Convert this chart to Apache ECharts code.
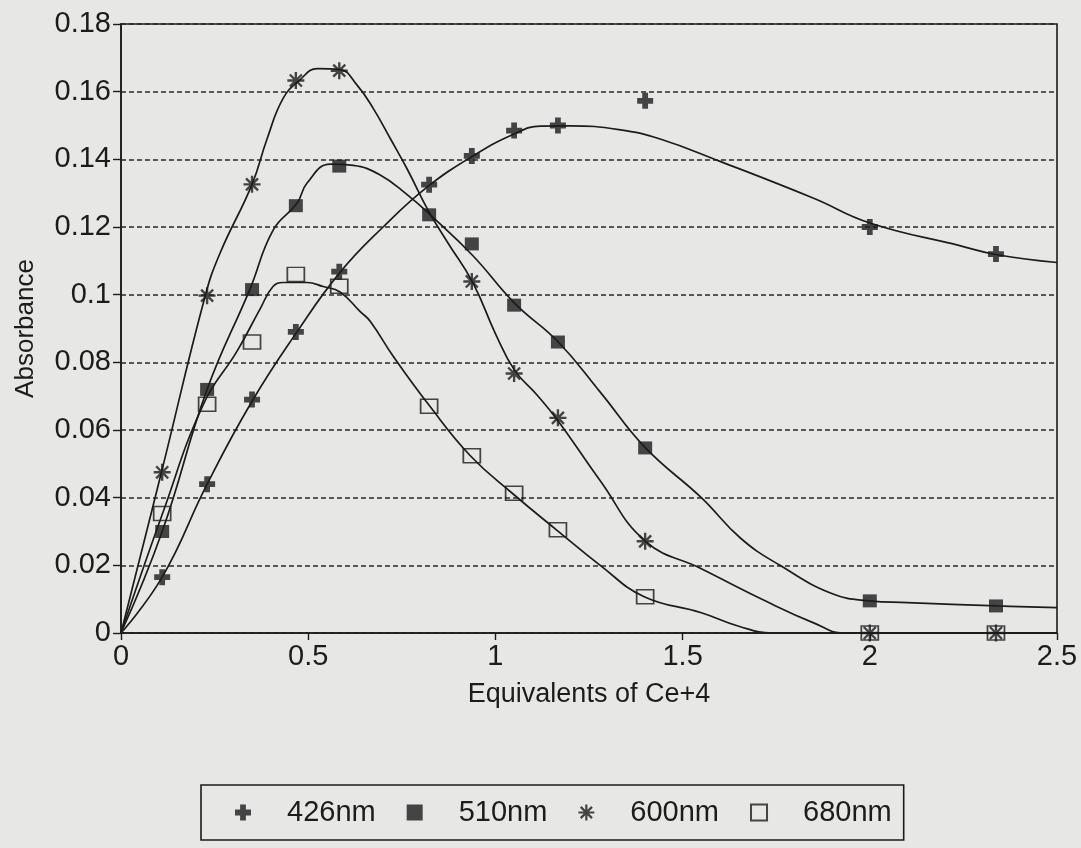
<!DOCTYPE html>
<html>
<head>
<meta charset="utf-8">
<script src="https://cdn.jsdelivr.net/npm/echarts@6/dist/echarts.min.js"></script>
<style>
html,body{margin:0;padding:0;background:#e7e7e5;}
#chart{width:1081px;height:848px;}
</style>
</head>
<body>
<div id="chart"></div>
<script>
// ---- data ----
const seriesNames = ['426nm', '510nm', '600nm', '680nm'];
const xTickLabels = ['0', '0.5', '1', '1.5', '2', '2.5'];
const yTickLabels = ['0', '0.02', '0.04', '0.06', '0.08', '0.1', '0.12', '0.14', '0.16', '0.18'];

// measured points (x = equivalents of Ce+4)
const xPoints = [0.11, 0.23, 0.35, 0.467, 0.583, 0.823, 0.937, 1.05, 1.167, 1.4, 2.0, 2.337];
const abs426 = [0.0165, 0.0440, 0.0690, 0.0890, 0.1068, 0.1325, 0.1410, 0.1485, 0.1500, 0.1573, 0.1200, 0.1120];
const abs510 = [0.0300, 0.0720, 0.1015, 0.1263, 0.1380, 0.1236, 0.1150, 0.0969, 0.0860, 0.0547, 0.0095, 0.0080];
const abs600 = [0.0475, 0.0997, 0.1326, 0.1633, 0.1662, null, 0.1039, 0.0767, 0.0636, 0.0271, 0.0, 0.0];
const abs680 = [0.0353, 0.0676, 0.0860, 0.1060, 0.1025, 0.0670, 0.0524, 0.0413, 0.0305, 0.0107, 0.0, 0.0];

// fitted curves ([x, absorbance])
const fit426 = [[0,0],[0.11,0.0165],[0.23,0.044],[0.35,0.0685],[0.47,0.089],[0.585,0.1066],[0.7,0.12],[0.82,0.132],[0.94,0.141],[1.05,0.1475],[1.12,0.1498],[1.2,0.1499],[1.33,0.1488],[1.44,0.146],[1.6,0.1394],[1.85,0.1285],[2.0,0.1212],[2.24,0.1145],[2.34,0.1118],[2.5,0.1095]];
const fit510 = [[0,0],[0.11,0.030],[0.23,0.072],[0.345,0.1018],[0.406,0.119],[0.47,0.127],[0.497,0.133],[0.559,0.1386],[0.62,0.1382],[0.69,0.1355],[0.765,0.1295],[0.826,0.1236],[0.94,0.1115],[1.051,0.0975],[1.168,0.086],[1.28,0.0712],[1.401,0.0547],[1.55,0.04],[1.655,0.028],[1.76,0.02],[1.9,0.0116],[2.0,0.0095],[2.1,0.009],[2.34,0.008],[2.5,0.0075]];
const fit600 = [[0,0],[0.108,0.0475],[0.225,0.0997],[0.265,0.1124],[0.35,0.1326],[0.39,0.146],[0.433,0.158],[0.478,0.1635],[0.524,0.1668],[0.585,0.1665],[0.63,0.162],[0.674,0.155],[0.72,0.146],[0.765,0.137],[0.82,0.125],[0.872,0.1155],[0.94,0.1035],[1.0,0.0885],[1.051,0.0777],[1.11,0.0705],[1.168,0.0626],[1.28,0.045],[1.401,0.0271],[1.55,0.019],[1.73,0.009],[1.85,0.003],[1.93,0],[2.5,0]];
const fit680 = [[0,0],[0.11,0.035],[0.22,0.0676],[0.31,0.0833],[0.372,0.0959],[0.406,0.1024],[0.433,0.1036],[0.497,0.1036],[0.54,0.1024],[0.585,0.1008],[0.639,0.095],[0.666,0.0921],[0.727,0.0818],[0.823,0.0673],[0.933,0.0524],[1.045,0.0413],[1.163,0.0305],[1.28,0.02],[1.396,0.0108],[1.55,0.006],[1.65,0.002],[1.74,0],[2.5,0]];

// ---- styling ----
const INK = '#1c1c1c';
const FONT = "'Liberation Sans', Arial, Helvetica, sans-serif";

function starPath() {
  const L = 10, w = 1.4;
  let d = '';
  [0, 45, 90, 135].forEach(a => {
    const r = a * Math.PI / 180, c = Math.cos(r), s = Math.sin(r);
    const pts = [[-L,-w],[L,-w],[L,w],[-L,w]].map(([x,y]) => [(x*c - y*s + L).toFixed(3), (x*s + y*c + L).toFixed(3)]);
    d += 'M' + pts[0].join(',') + 'L' + pts[1].join(',') + 'L' + pts[2].join(',') + 'L' + pts[3].join(',') + 'Z';
  });
  return 'path://' + d;
}
const plusPath = 'path://M3.2,0H6.8V3.2H10V6.8H6.8V10H3.2V6.8H0V3.2H3.2Z';
const squarePath = 'path://M0,0H10V10H0Z';
const symbols = [plusPath, squarePath, starPath(), squarePath];
const symbolSizes = [16, [14, 13], 17, [17, 14]];
const symbolStyles = [
  {color: INK},
  {color: INK},
  {color: INK},
  {color: 'rgba(0,0,0,0)', borderColor: INK, borderWidth: 1.6}
];

const pointSets = [abs426, abs510, abs600, abs680];
const fitSets = [fit426, fit510, fit600, fit680];

const series = [];
fitSets.forEach((f, i) => {
  series.push({
    name: seriesNames[i] + ' fit',
    type: 'line',
    data: f,
    smooth: 0.45,
    showSymbol: false,
    symbol: 'none',
    lineStyle: {color: INK, width: 1.7},
    z: 2,
    silent: true
  });
});
pointSets.forEach((vals, i) => {
  series.push({
    name: seriesNames[i],
    type: 'scatter',
    data: xPoints.map((x, k) => vals[k] === null ? null : [x, vals[k]]).filter(p => p !== null),
    symbol: symbols[i],
    symbolSize: symbolSizes[i],
    itemStyle: symbolStyles[i],
    z: 3 + i
  });
});

const chart = echarts.init(document.getElementById('chart'), null, {renderer: 'canvas'});
chart.setOption({
  animation: false,
  backgroundColor: '#e7e7e5',
  textStyle: {fontFamily: FONT, color: INK},
  grid: {
    left: 121, right: 24, top: 24, bottom: 215,
    show: true, borderColor: INK, borderWidth: 1.6, backgroundColor: 'transparent'
  },
  xAxis: {
    type: 'value', min: 0, max: 2.5, interval: 0.5,
    name: 'Equivalents of Ce+4', nameLocation: 'middle', nameGap: 48,
    nameTextStyle: {fontSize: 27, fontFamily: FONT, color: INK},
    axisLine: {show: true, lineStyle: {color: INK, width: 1.6}},
    axisTick: {show: true, inside: false, length: 7, lineStyle: {color: INK, width: 1.4}},
    axisLabel: {fontSize: 29, fontFamily: FONT, color: INK, margin: 9,
      formatter: (v) => xTickLabels[Math.round(v / 0.5)]},
    splitLine: {show: false}
  },
  yAxis: {
    type: 'value', min: 0, max: 0.18, interval: 0.02,
    name: 'Absorbance', nameLocation: 'middle', nameGap: 82,
    nameTextStyle: {fontSize: 26, fontFamily: FONT, color: INK},
    axisLine: {show: true, lineStyle: {color: INK, width: 1.6}},
    axisTick: {show: true, inside: false, length: 8, lineStyle: {color: INK, width: 1.4}},
    axisLabel: {fontSize: 29, fontFamily: FONT, color: INK, margin: 10,
      formatter: (v) => yTickLabels[Math.round(v / 0.02)]},
    splitLine: {show: true, lineStyle: {color: '#2a2a2a', width: 1.6, type: [5, 3]}}
  },
  legend: {
    data: seriesNames,
    left: 201, top: 785,
    orient: 'horizontal',
    itemWidth: 16, itemHeight: 16, itemGap: 31,
    padding: [13, 12, 13, 34],
    borderColor: INK, borderWidth: 1.6,
    textStyle: {fontSize: 29, fontFamily: FONT, color: INK, padding: [0, 0, 0, 31]},
    selectedMode: false
  },
  series: series
});
</script>
</body>
</html>
